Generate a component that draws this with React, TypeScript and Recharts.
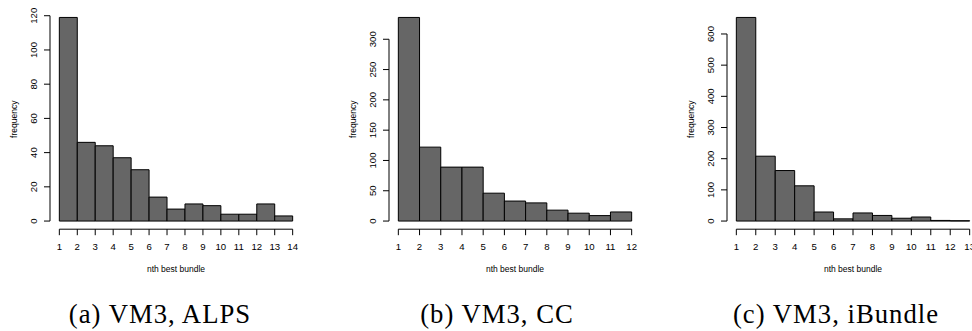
import React from 'react';
import { ComposedChart, Bar, XAxis, YAxis, ReferenceLine, Label } from 'recharts';

// ---- data ----
const alpsBinStarts = [1, 2, 3, 4, 5, 6, 7, 8, 9, 10, 11, 12, 13];
const alpsCounts = [119, 46, 44, 37, 30, 14, 7, 10, 9, 4, 4, 10, 3];
const alpsXTicks = [1, 2, 3, 4, 5, 6, 7, 8, 9, 10, 11, 12, 13, 14];
const alpsYTicks = [0, 20, 40, 60, 80, 100, 120];

const ccBinStarts = [1, 2, 3, 4, 5, 6, 7, 8, 9, 10, 11];
const ccCounts = [336, 122, 89, 89, 46, 33, 30, 18, 13, 9, 15];
const ccXTicks = [1, 2, 3, 4, 5, 6, 7, 8, 9, 10, 11, 12];
const ccYTicks = [0, 50, 100, 150, 200, 250, 300];

const ibBinStarts = [1, 2, 3, 4, 5, 6, 7, 8, 9, 10, 11, 12];
const ibCounts = [653, 208, 162, 113, 29, 7, 26, 18, 9, 13, 2, 1];
const ibXTicks = [1, 2, 3, 4, 5, 6, 7, 8, 9, 10, 11, 12, 13];
const ibYTicks = [0, 100, 200, 300, 400, 500, 600];

const xTitle = 'nth best bundle';
const yTitle = 'frequency';
const captions = ['(a) VM3, ALPS', '(b) VM3, CC', '(c) VM3, iBundle'];

// ---- layout ----
const FONT = '"Liberation Sans", Arial, Helvetica, sans-serif';
const SERIF = '"Liberation Serif", "Times New Roman", serif';
const PLOT_W = 252;
const PLOT_TOP = 9.3;
const PLOT_BOTTOM = 229.2;
const Y_AXIS_W = 40;
const LEFT_PAD = 10;
const RIGHT_PAD = 20;
const X_AXIS_H = 40;
const CH_H = 290;

const YTick = (props: any) => {
  const { x, y, payload } = props;
  return (
    <text
      x={x}
      y={y}
      transform={`rotate(-90 ${x} ${y})`}
      textAnchor="middle"
      fontSize={9.6}
      fontFamily={FONT}
      fill="#000"
    >
      {payload.value}
    </text>
  );
};

const XTitle = (props: any) => {
  const vb = props.viewBox || {};
  return (
    <text
      x={vb.x + vb.width / 2}
      y={vb.y + 42.8}
      textAnchor="middle"
      fontSize={8.5}
      fontFamily={FONT}
      fill="#000"
    >
      {xTitle}
    </text>
  );
};

const YTitle = (props: any) => {
  const vb = props.viewBox || {};
  const x = vb.x + 7;
  const y = vb.y + vb.height / 2;
  return (
    <text
      x={x}
      y={y}
      transform={`rotate(-90 ${x} ${y})`}
      textAnchor="middle"
      fontSize={8.5}
      fontFamily={FONT}
      fill="#000"
    >
      {yTitle}
    </text>
  );
};

type HistProps = {
  plotLeft: number;
  starts: number[];
  counts: number[];
  xTicks: number[];
  yTicks: number[];
};

function Hist({ plotLeft, starts, counts, xTicks, yTicks }: HistProps) {
  const xLo = xTicks[0];
  const xHi = xTicks[xTicks.length - 1];
  const xr = (xHi - xLo) * 0.04;
  const xMin = xLo - xr;
  const xMax = xHi + xr;
  const maxC = Math.max(...counts);
  const yMin = -0.04 * maxC;
  const yMax = 1.04 * maxC;
  const unit = PLOT_W / (xMax - xMin);
  const data = counts.map((c, i) => ({ mid: starts[i] + 0.5, count: c }));
  const width = LEFT_PAD + Y_AXIS_W + PLOT_W + RIGHT_PAD;
  return (
    <div style={{ position: 'absolute', left: plotLeft - LEFT_PAD - Y_AXIS_W, top: 0 }}>
      <ComposedChart
        width={width}
        height={CH_H}
        data={data}
        barCategoryGap={0}
        barGap={0}
        margin={{ top: PLOT_TOP, right: RIGHT_PAD, left: LEFT_PAD, bottom: CH_H - PLOT_BOTTOM - X_AXIS_H }}
      >
        <XAxis
          type="number"
          dataKey="mid"
          domain={[xMin, xMax]}
          allowDataOverflow
          ticks={xTicks}
          interval={0}
          axisLine={false}
          tickLine={{ stroke: '#000', strokeWidth: 1 }}
          tickSize={6}
          tickMargin={8}
          height={X_AXIS_H}
          tick={{ fill: '#000', fontSize: 9.6, fontFamily: FONT }}
        >
          <Label content={XTitle} />
        </XAxis>
        <YAxis
          type="number"
          domain={[yMin, yMax]}
          allowDataOverflow
          ticks={yTicks}
          interval={0}
          axisLine={false}
          tickLine={{ stroke: '#000', strokeWidth: 1 }}
          tickSize={6}
          tickMargin={7}
          width={Y_AXIS_W}
          tick={<YTick />}
        >
          <Label content={YTitle} />
        </YAxis>
        <Bar
          dataKey="count"
          fill="#666666"
          stroke="#000"
          strokeWidth={1}
          barSize={unit - 0.001}
          isAnimationActive={false}
        />
        <ReferenceLine
          segment={[{ x: xLo, y: yMin }, { x: xHi, y: yMin }]}
          stroke="#000"
          strokeWidth={1}
          ifOverflow="visible"
        />
        <ReferenceLine
          segment={[{ x: xMin, y: yTicks[0] }, { x: xMin, y: yTicks[yTicks.length - 1] }]}
          stroke="#000"
          strokeWidth={1}
          ifOverflow="visible"
        />
      </ComposedChart>
    </div>
  );
}

export default function App() {
  const captionX = [160, 497, 836];
  return (
    <div
      style={{
        position: 'absolute',
        left: 0,
        top: 0,
        width: 972,
        height: 331,
        overflow: 'hidden',
        background: '#fff',
      }}
    >
      <Hist plotLeft={50.3} starts={alpsBinStarts} counts={alpsCounts} xTicks={alpsXTicks} yTicks={alpsYTicks} />
      <Hist plotLeft={388.7} starts={ccBinStarts} counts={ccCounts} xTicks={ccXTicks} yTicks={ccYTicks} />
      <Hist plotLeft={727} starts={ibBinStarts} counts={ibCounts} xTicks={ibXTicks} yTicks={ibYTicks} />
      <svg
        width={972}
        height={331}
        style={{ position: 'absolute', left: 0, top: 0, pointerEvents: 'none' }}
      >
        {captions.map((c, i) => (
          <text
            key={c}
            x={captionX[i]}
            y={323}
            textAnchor="middle"
            fontSize={26.7}
            letterSpacing={1}
            fontFamily={SERIF}
            fill="#000"
          >
            {c}
          </text>
        ))}
      </svg>
    </div>
  );
}
